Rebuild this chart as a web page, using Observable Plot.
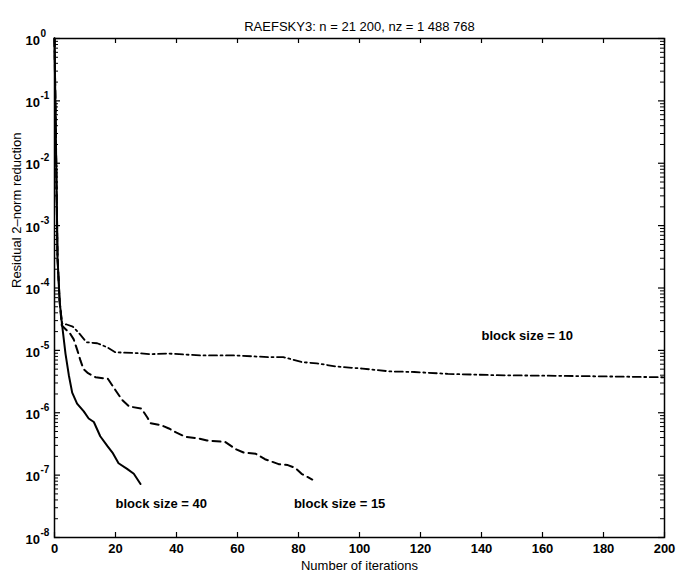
<!DOCTYPE html>
<html><head><meta charset="utf-8">
<script src="https://cdn.jsdelivr.net/npm/d3@7"></script>
<script src="https://cdn.jsdelivr.net/npm/@observablehq/plot@0.6"></script>
<style>body{margin:0;background:#fff}</style>
</head><body><div id="chart"></div>
<script>
const titleText = "RAEFSKY3: n = 21 200, nz = 1 488 768";
const xLabel = "Number of iterations";
const yLabel = "Residual 2\u2013norm reduction";
const xTicks = [0, 20, 40, 60, 80, 100, 120, 140, 160, 180, 200];
const yExponents = [0, -1, -2, -3, -4, -5, -6, -7, -8];

// block size = 40 (solid)
const bs40Iter = [0, 1, 1.7, 2.4, 3.6, 4.7, 5.8, 7.4, 9.6, 11.2, 12.9, 15, 17.3, 19, 21, 23.8, 26, 28.2];
const bs40Res  = [1, 3.0e-4, 6.0e-5, 2.8e-5, 8.9e-6, 4.0e-6, 2.1e-6, 1.4e-6, 1.05e-6, 8.1e-7, 7.1e-7, 4.2e-7, 2.95e-7, 2.3e-7, 1.55e-7, 1.26e-7, 1.05e-7, 7.2e-8];

// block size = 15 (dashed)
const bs15Iter = [0, 1, 1.7, 2.4, 4, 5, 6.3, 7.5, 8.5, 9.5, 11, 13.5, 17.5, 20, 22.2, 24.5, 28.5, 30.5, 31.5, 35, 37.5, 40, 43, 47, 50, 56, 59.5, 62, 66, 69, 73.5, 76.5, 79, 81, 84.5];
const bs15Res  = [1, 3.0e-4, 6.0e-5, 2.5e-5, 2.1e-5, 1.9e-5, 1.5e-5, 1.0e-5, 6.9e-6, 5.0e-6, 4.3e-6, 3.7e-6, 3.5e-6, 2.3e-6, 1.6e-6, 1.26e-6, 1.17e-6, 8.3e-7, 6.8e-7, 6.3e-7, 5.6e-7, 4.8e-7, 4.1e-7, 3.9e-7, 3.6e-7, 3.4e-7, 2.6e-7, 2.3e-7, 2.2e-7, 1.8e-7, 1.5e-7, 1.45e-7, 1.3e-7, 1.05e-7, 8.5e-8];

// block size = 10 (dash-dot)
const bs10Iter = [0, 1, 1.7, 2.5, 4, 6, 8, 10.5, 14, 17.3, 20, 26, 31.5, 37, 48, 59, 70, 75, 81, 86, 92.5, 101, 110, 118, 129, 145, 167, 185, 200];
const bs10Res  = [1, 3.0e-4, 6.0e-5, 2.7e-5, 2.6e-5, 2.4e-5, 1.9e-5, 1.35e-5, 1.3e-5, 1.12e-5, 9.3e-6, 9.1e-6, 8.7e-6, 8.9e-6, 8.3e-6, 8.3e-6, 7.8e-6, 7.8e-6, 6.5e-6, 6.2e-6, 5.5e-6, 5.1e-6, 4.6e-6, 4.5e-6, 4.2e-6, 4.0e-6, 3.9e-6, 3.8e-6, 3.7e-6];

const labelTexts = ["block size = 10", "block size = 40", "block size = 15"];
const labelIter  = [140, 20, 78.5];
const labelRes   = [1.74e-5, 3.5e-8, 3.5e-8];

const toRows = (xs, ys) => xs.map((x, i) => ({x, y: ys[i]}));
const bs40 = toRows(bs40Iter, bs40Res);
const bs15 = toRows(bs15Iter, bs15Res);
const bs10 = toRows(bs10Iter, bs10Res);
const labels = labelTexts.map((t, i) => ({t, x: labelIter[i], y: labelRes[i]}));

const W = 676, H = 576, mL = 54, mR = 12, mT = 38, mB = 39;
const fW = W - mL - mR, fH = H - mT - mB;
const yMajor = yExponents.map(e => 10 ** e);
const yMinor = [];
for (const e of yExponents.slice(1)) for (let k = 2; k <= 9; k++) yMinor.push(k * 10 ** e);

const font = "Liberation Sans, Arial, Helvetica, sans-serif";
const chart = Plot.plot({
  width: W, height: H,
  marginLeft: mL, marginRight: mR, marginTop: mT, marginBottom: mB,
  style: {fontFamily: font, fontSize: "13px", background: "white", color: "black"},
  x: {domain: [0, 200], axis: null},
  y: {type: "log", domain: [1e-8, 1], axis: null},
  marks: [
    Plot.line(bs10, {x: "x", y: "y", stroke: "black", strokeWidth: 1.8, strokeDasharray: "8,3.5,2,3.5"}),
    Plot.line(bs15, {x: "x", y: "y", stroke: "black", strokeWidth: 2, strokeDasharray: "8,5"}),
    Plot.line(bs40, {x: "x", y: "y", stroke: "black", strokeWidth: 2}),
    Plot.frame({stroke: "black", strokeWidth: 1.5}),
    Plot.ruleX(xTicks, {x: d => d, insetTop: fH - 5, stroke: "black", strokeWidth: 1.2}),
    Plot.ruleX(xTicks, {x: d => d, insetBottom: fH - 5, stroke: "black", strokeWidth: 1.2}),
    Plot.ruleY(yMajor, {y: d => d, insetRight: fW - 6, stroke: "black", strokeWidth: 1.2}),
    Plot.ruleY(yMajor, {y: d => d, insetLeft: fW - 6, stroke: "black", strokeWidth: 1.2}),
    Plot.ruleY(yMinor, {y: d => d, insetRight: fW - 4, stroke: "black", strokeWidth: 1}),
    Plot.ruleY(yMinor, {y: d => d, insetLeft: fW - 4, stroke: "black", strokeWidth: 1}),
    Plot.text(xTicks, {x: d => d, text: d => String(d), frameAnchor: "bottom", dy: 15, fontWeight: "bold", fontSize: 13}),
    Plot.text(yExponents, {y: e => 10 ** e, text: () => "10", frameAnchor: "left", textAnchor: "start", dx: -29, dy: 2, fontWeight: "bold", fontSize: 13}),
    Plot.text(yExponents, {y: e => 10 ** e, text: e => e === 0 ? "0" : "-" + (-e), frameAnchor: "left", textAnchor: "start", dx: -14, dy: -5, fontWeight: "bold", fontSize: 10}),
    Plot.text(labels, {x: "x", y: "y", text: "t", textAnchor: "start", fontWeight: "bold", fontSize: 13}),
    Plot.text([titleText], {text: d => d, frameAnchor: "top", dy: -17, fontSize: 13}),
    Plot.text([xLabel], {text: d => d, frameAnchor: "bottom", dy: 32, fontSize: 13}),
    Plot.text([yLabel], {text: d => d, frameAnchor: "left", rotate: -90, dx: -38, fontSize: 13})
  ]
});
document.getElementById("chart").append(chart);
</script>
</body></html>
